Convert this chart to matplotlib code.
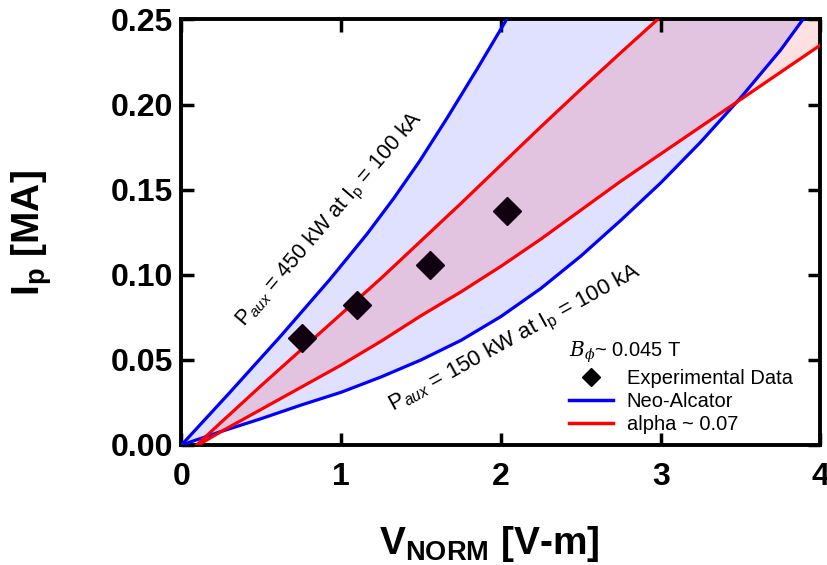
import numpy as np
import matplotlib
matplotlib.use("Agg")
import matplotlib.pyplot as plt
from matplotlib.lines import Line2D

plt.rcParams['font.family'] = ['Liberation Sans', 'DejaVu Sans']
plt.rcParams['mathtext.fontset'] = 'custom'
plt.rcParams['mathtext.rm'] = 'Liberation Sans'
plt.rcParams['mathtext.it'] = 'Liberation Sans:italic'
plt.rcParams['mathtext.bf'] = 'Liberation Sans:bold'
plt.rcParams['mathtext.sf'] = 'DejaVu Serif:italic'

# Experimental data
exp_v = [0.752, 1.097, 1.556, 2.035]
exp_ip = [0.0627, 0.0825, 0.1058, 0.1372]

# Neo-Alcator, 450 kW (upper blue)
na_hi_v = [0.0, 0.3, 0.62, 0.93, 1.16, 1.33, 1.49, 1.66, 1.85, 2.035]
na_hi_ip = [0.0, 0.0306, 0.0639, 0.0974, 0.1238, 0.1451, 0.1667, 0.1917, 0.2208, 0.25]

# Neo-Alcator, 150 kW (lower blue)
na_lo_v = [0.0, 0.25, 0.5, 0.75, 1.0, 1.25, 1.5, 1.75, 2.0, 2.25, 2.5, 2.75,
           3.0, 3.25, 3.5, 3.75, 3.89]
na_lo_ip = [0.0, 0.008, 0.0155, 0.0235, 0.031, 0.040, 0.050, 0.0615, 0.0755,
            0.092, 0.111, 0.132, 0.154, 0.178, 0.204, 0.232, 0.25]

# alpha ~ 0.07, upper red
al_hi_v = [0.095, 0.25, 0.5, 0.75, 1.0, 1.25, 1.5, 1.75, 2.0, 2.25, 2.5, 2.75, 2.98]
al_hi_ip = [0.0, 0.0135, 0.035, 0.056, 0.077, 0.098, 0.120, 0.142, 0.1645,
            0.187, 0.209, 0.2305, 0.25]

# alpha ~ 0.07, lower red
al_lo_v = [0.105, 0.25, 0.5, 0.75, 1.0, 1.25, 1.5, 1.75, 2.0, 2.25, 2.5, 2.75,
           3.0, 3.25, 3.5, 3.75, 4.0]
al_lo_ip = [0.0, 0.008, 0.021, 0.034, 0.047, 0.061, 0.076, 0.090, 0.105,
            0.121, 0.138, 0.155, 0.171, 0.187, 0.203, 0.219, 0.235]

xticks = [0, 1, 2, 3, 4]
yticks = [0.00, 0.05, 0.10, 0.15, 0.20, 0.25]
xlim = (0, 4)
ylim = (0, 0.25)

fig = plt.figure(figsize=(8.28, 5.65), dpi=100)
ax = fig.add_axes([0.2192, 0.2124, 0.7717, 0.7531])
ax.set_xlim(*xlim)
ax.set_ylim(*ylim)

# fills
ax.fill(np.concatenate([na_hi_v, na_lo_v[::-1]]),
        np.concatenate([na_hi_ip, na_lo_ip[::-1]]),
        color='#0000ff', alpha=0.12, lw=0, zorder=1)
ax.fill(np.concatenate([al_hi_v, [xlim[1]], al_lo_v[::-1]]),
        np.concatenate([al_hi_ip, [ylim[1]], al_lo_ip[::-1]]),
        color='#ff0000', alpha=0.12, lw=0, zorder=1)

for xs, ys, c in [(na_hi_v, na_hi_ip, '#0000ff'), (na_lo_v, na_lo_ip, '#0000ff'),
                  (al_hi_v, al_hi_ip, '#ff0000'), (al_lo_v, al_lo_ip, '#ff0000')]:
    ax.plot(xs, ys, color=c, lw=2.3, zorder=3, solid_joinstyle='round')
ax.plot(exp_v, exp_ip, linestyle='none', marker='D', markersize=14,
        color='#100010', zorder=4)

ax.text(0.93, 0.132, r"P$_{aux}$ = 450 kW at I$_\mathrm{p}$ = 100 kA",
        rotation=49.5, rotation_mode='anchor', ha='center', va='center',
        fontsize=15.5)
ax.text(2.09, 0.0625, r"P$_{aux}$ = 150 kW at I$_\mathrm{p}$ = 100 kA",
        rotation=28.8, rotation_mode='anchor', ha='center', va='center',
        fontsize=16)

handles = [Line2D([], [], linestyle='none', marker='D', markersize=9, color='black'),
           Line2D([], [], color='#0000ff', lw=2.5),
           Line2D([], [], color='#ff0000', lw=2.5)]
labels = ['Experimental Data', 'Neo-Alcator', 'alpha ~ 0.07']
leg = ax.legend(handles, labels, loc='upper left', bbox_to_anchor=(0.607, 0.248),
                frameon=False, fontsize=14.5, title=r"$\mathsf{B_{\phi}}$~ 0.045 T",
                title_fontsize=14.5, handlelength=2.15, handletextpad=0.7,
                labelspacing=0.2, borderpad=0.0, borderaxespad=0.0,
                alignment='left')

ax.set_xticks(xticks)
ax.set_yticks(yticks)
ax.set_xticklabels([str(t) for t in xticks])
ax.set_yticklabels([f"{t:.2f}" for t in yticks])
ax.tick_params(direction='in', length=9, width=2.5, top=True, right=True,
               labelsize=23)
ax.tick_params(axis='x', pad=12)
ax.tick_params(axis='y', pad=6)
for lab in ax.get_xticklabels() + ax.get_yticklabels():
    lab.set_fontweight('bold')
for sp in ax.spines.values():
    sp.set_linewidth(2.8)

ax.set_xlabel(r"$\mathbf{V_{NORM}}$ [V-m]", fontsize=28, fontweight='bold')
ax.set_ylabel(r"$\mathbf{I_p}$ [MA]", fontsize=28, fontweight='bold')
ax.xaxis.set_label_coords(0.482, -0.186)
ax.yaxis.set_label_coords(-0.2, 0.497)

fig.savefig("out.png", dpi=100)
